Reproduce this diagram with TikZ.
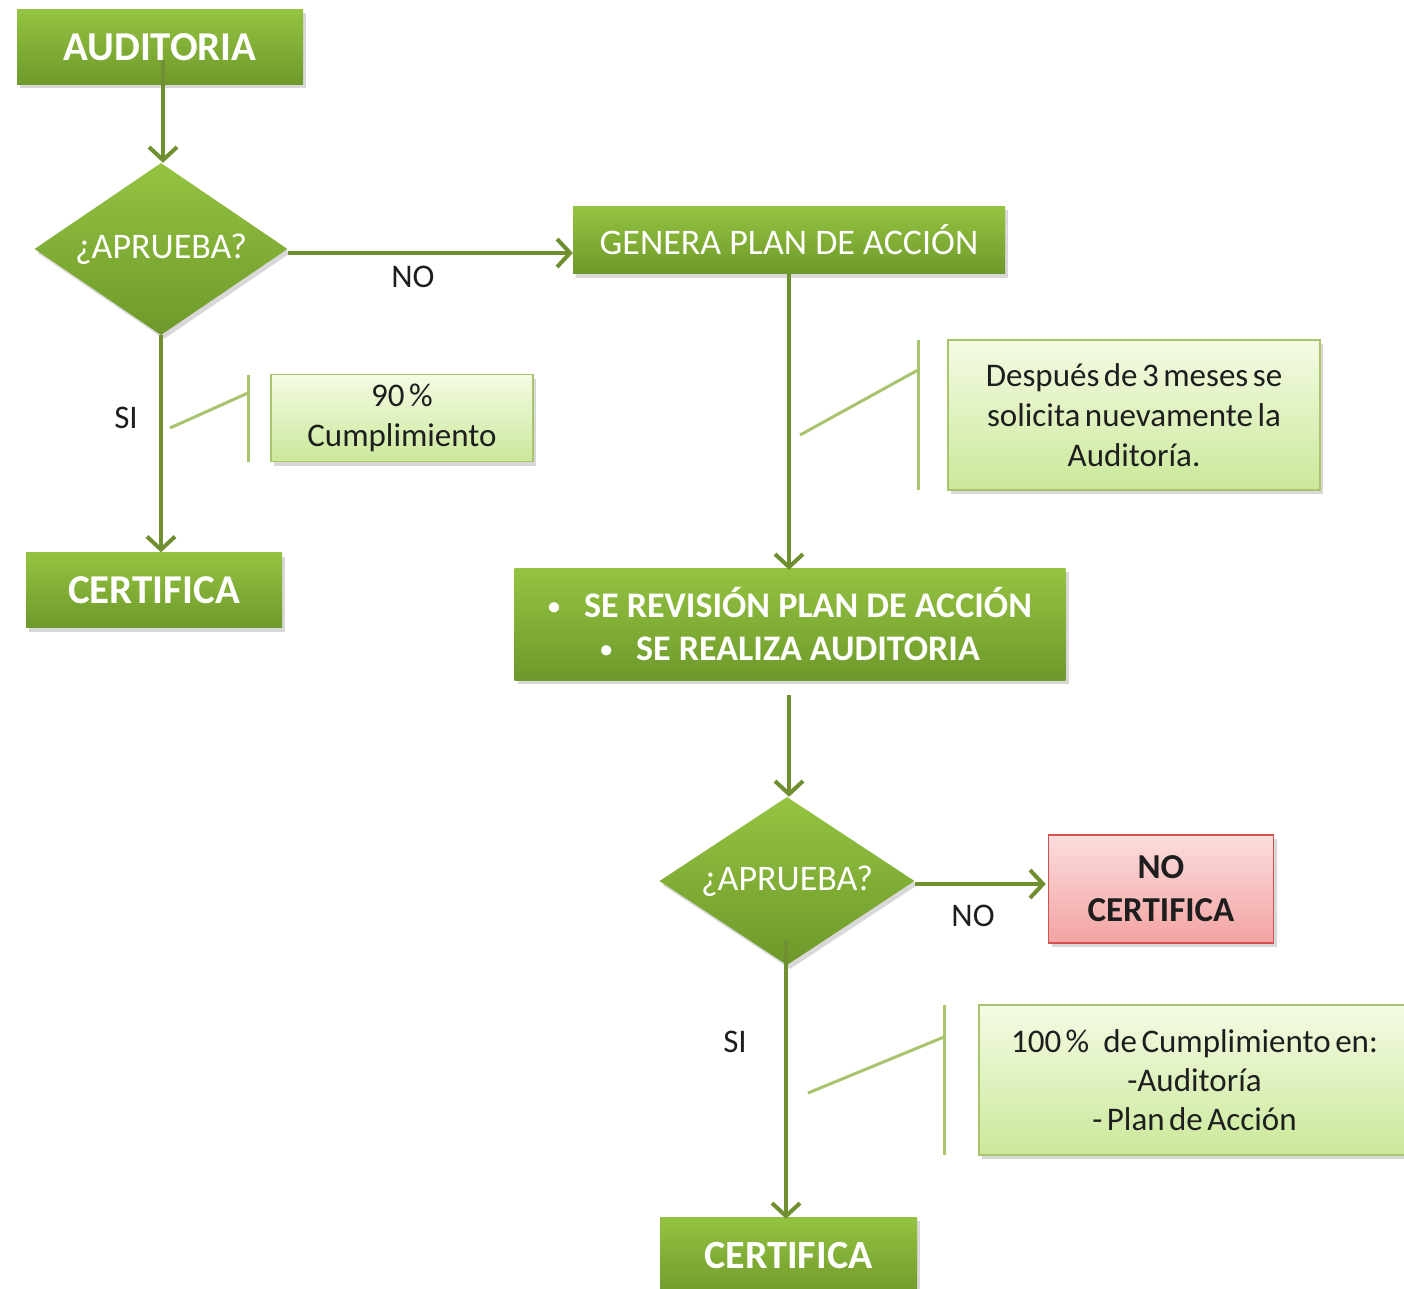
\documentclass[tikz,border=0pt]{standalone}
\usepackage{fontspec}
\setmainfont{Carlito}
\newfontfamily\callfont{Carlito}[WordSpace=0.6]
\usetikzlibrary{shapes.geometric,arrows.meta,shadows}
\definecolor{gTop}{HTML}{95C341}
\definecolor{gBot}{HTML}{6E992B}
\definecolor{arrC}{HTML}{6F8F30}
\definecolor{cTop}{HTML}{F4FBE4}
\definecolor{cBot}{HTML}{CBE89A}
\definecolor{cBrd}{HTML}{A8C46E}
\definecolor{rTop}{HTML}{FCDDDD}
\definecolor{rBot}{HTML}{F3A3A3}
\definecolor{rBrd}{HTML}{D65050}
\definecolor{txtD}{HTML}{1E1E1E}
\newcommand{\smbul}{{\fontsize{24}{24}\selectfont\raisebox{3pt}{•}}}
\begin{document}
\begin{tikzpicture}[x=1pt,y=-1pt,
  shad/.style={drop shadow={shadow xshift=3pt,shadow yshift=-4pt,opacity=0.3}},
  gbox/.style={rectangle, top color=gTop, bottom color=gBot, text=white, inner sep=0pt, shad},
  gdia/.style={diamond, top color=gTop, bottom color=gBot, text=white, inner sep=0pt, shad,
    font=\fontsize{36}{40}\selectfont},
  callbox/.style={rectangle, top color=cTop, bottom color=cBot, draw=cBrd, line width=1.5pt,
    text=txtD, align=center, inner sep=0pt, shad, font=\callfont\fontsize{33}{40}\selectfont},
  redbox/.style={rectangle, top color=rTop, bottom color=rBot, draw=rBrd, line width=1.5pt,
    text=txtD, align=center, inner sep=0pt, shad, font=\fontsize{35}{43}\selectfont\bfseries},
  arr/.style={draw=arrC, line width=4pt, -{Straight Barb[length=13pt,width=28pt,line width=4pt]}},
  cline/.style={draw=cBrd, line width=3pt},
  lbl/.style={text=txtD, font=\fontsize{33}{36}\selectfont, inner sep=0pt}
]
\useasboundingbox (0,0) rectangle (1404,1289);
\fill[white] (0,0) rectangle (1404,1289);

% main nodes
\node[gbox, minimum width=286pt, minimum height=75pt, font=\fontsize{41}{44}\selectfont\bfseries] (audit) at (160,47) {AUDITORIA};
\node[gdia, minimum width=253pt, minimum height=172pt, aspect=1.47] (d1) at (161,249) {¿APRUEBA?};
\node[gbox, minimum width=432pt, minimum height=67pt, font=\fontsize{36}{40}\selectfont] (gen) at (789,240) {GENERA PLAN DE ACCIÓN};
\node[gbox, minimum width=256pt, minimum height=75pt, font=\fontsize{41}{44}\selectfont\bfseries] (cert1) at (154,590) {CERTIFICA};
\node[callbox, minimum width=262pt, minimum height=87pt] (call1) at (402,418) {90 \%\\Cumplimiento};
\node[callbox, minimum width=372pt, minimum height=150pt] (call2) at (1134,415) {Después de 3 meses se\\solicita nuevamente la\\Auditoría.};
\node[gbox, minimum width=551pt, minimum height=112pt, align=center, font=\fontsize{36}{43}\selectfont\bfseries] (rev) at (790,624)
  {\smbul\hspace{24pt}SE REVISIÓN PLAN DE ACCIÓN\\\smbul\hspace{24pt}SE REALIZA AUDITORIA};
\node[gdia, minimum width=255pt, minimum height=168pt, aspect=1.52] (d2) at (787,881) {¿APRUEBA?};
\node[redbox, minimum width=225pt, minimum height=108pt] (noc) at (1161,889) {NO\\CERTIFICA};
\node[callbox, minimum width=431pt, minimum height=150pt, font=\callfont\fontsize{33}{39}\selectfont] (call3) at (1194.5,1080)
  {100 \%\hspace{14pt}de Cumplimiento en:\\-Auditoría\\- Plan de Acción};
\node[gbox, minimum width=257pt, minimum height=80pt, font=\fontsize{40}{44}\selectfont\bfseries] (cert2) at (788.5,1257) {\raisebox{3pt}{CERTIFICA}};

% labels
\node[lbl] (no1) at (413,277) {NO};
\node[lbl] (si1) at (126,418) {SI};
\node[lbl] (no2) at (973,916) {NO};
\node[lbl] (si2) at (735,1042) {SI};

% connectors
\draw[arr] ([xshift=3pt,yshift=-13pt]audit.center) -- ([xshift=3pt]audit.center |- d1.north);
\draw[arr] ([yshift=-4pt]d1.east) -- ([yshift=-4pt]d1.east -| gen.west);
\draw[arr] (d1.south) -- (d1.south |- cert1.north);
\draw[arr] (gen.south) -- ([yshift=-2pt]gen.south |- rev.north);
\draw[arr] ([xshift=-1pt,yshift=-15pt]rev.south) -- ([xshift=-1pt]rev.south |- d2.north);
\draw[arr] ([yshift=-3pt]d2.east) -- ([yshift=-3pt,xshift=-2pt]d2.east -| noc.west);
\draw[arr] ([xshift=-1pt,yshift=25pt]d2.south) -- ([xshift=-1pt,yshift=-2pt]d2.south |- cert2.north);

% callout lines
\coordinate (c1a) at (248,375); \coordinate (c1b) at (248,462);
\coordinate (c1m) at (248,393); \coordinate (c1e) at (170,428);
\draw[cline] (c1a) -- (c1b); \draw[cline] (c1m) -- (c1e);
\coordinate (c2a) at (918,340); \coordinate (c2b) at (918,490);
\coordinate (c2m) at (918,370); \coordinate (c2e) at (800,435);
\draw[cline] (c2a) -- (c2b); \draw[cline] (c2m) -- (c2e);
\coordinate (c3a) at (944,1005); \coordinate (c3b) at (944,1155);
\coordinate (c3m) at (944,1037); \coordinate (c3e) at (808,1093);
\draw[cline] (c3a) -- (c3b); \draw[cline] (c3m) -- (c3e);
\end{tikzpicture}
\end{document}
